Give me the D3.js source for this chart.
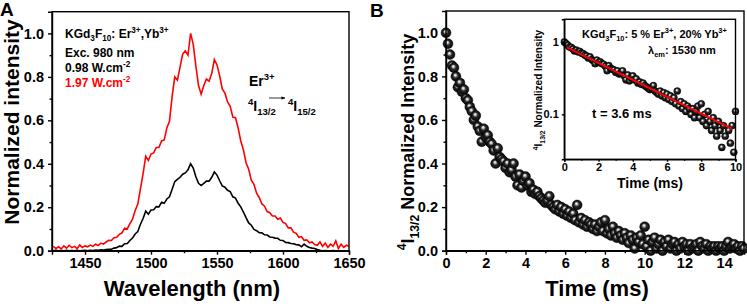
<!DOCTYPE html>
<html>
<head>
<meta charset="utf-8">
<script src="https://cdn.jsdelivr.net/npm/d3@7"></script>
<style>
  body { margin: 0; background: #fff; }
  svg { display: block; font-family: "Liberation Sans", Arial, sans-serif; font-weight: bold; }
  .axis path, .axis line { stroke: #000; stroke-width: 1.4; }
  .axis text { font-family: "Liberation Sans", Arial, sans-serif; font-weight: bold; fill: #000; }
</style>
</head>
<body>
<div id="chart"></div>
<script>
// Panel A: NIR emission spectra, 2 nm sampling from 1426 nm
const wavelength = d3.range(1426, 1651, 2);
const spec197 = [
  0.02, 0.01, 0.018, 0.008, 0.022, 0.012, 0.025, 0.014, 0.02, 0.01,
  0.026, 0.015, 0.022, 0.018, 0.026, 0.02, 0.03, 0.024, 0.035, 0.03,
  0.04, 0.048, 0.047, 0.06, 0.062, 0.075, 0.082, 0.104, 0.1, 0.125,
  0.145, 0.185, 0.215, 0.285, 0.355, 0.435, 0.415, 0.445, 0.45, 0.475,
  0.475, 0.505, 0.51, 0.565, 0.595, 0.71, 0.8, 0.785, 0.845, 0.905,
  0.92, 0.9, 1.0, 0.95, 0.85, 0.76, 0.72, 0.76, 0.79, 0.78,
  0.815, 0.88, 0.855, 0.805, 0.745, 0.725, 0.685, 0.665, 0.615, 0.612,
  0.565, 0.505, 0.465, 0.405, 0.375, 0.325, 0.305, 0.265, 0.245, 0.215,
  0.205, 0.18, 0.175, 0.16, 0.16, 0.145, 0.15, 0.13, 0.125, 0.105,
  0.105, 0.085, 0.08, 0.062, 0.065, 0.048, 0.05, 0.036, 0.04, 0.028,
  0.025, 0.04, 0.02, 0.035, 0.015, 0.03, 0.02, 0.045, 0.01, 0.03,
  0.015, 0.025, 0.02
];
const spec098 = [
  0, 0.002, 0, 0.001, 0, 0.002, 0, 0.001, 0, 0.002,
  0, 0.001, 0.002, 0, 0.002, 0.001, 0.003, 0.002, 0.004, 0.003,
  0.005, 0.007, 0.007, 0.012, 0.014, 0.021, 0.02, 0.032, 0.033, 0.047,
  0.058, 0.077, 0.088, 0.122, 0.148, 0.182, 0.168, 0.187, 0.188, 0.203,
  0.202, 0.223, 0.218, 0.238, 0.248, 0.283, 0.318, 0.328, 0.338, 0.352,
  0.358, 0.372, 0.4, 0.38, 0.34, 0.31, 0.3, 0.31, 0.32, 0.32,
  0.338, 0.362, 0.348, 0.322, 0.298, 0.292, 0.278, 0.272, 0.248, 0.242,
  0.218, 0.202, 0.178, 0.152, 0.128, 0.117, 0.098, 0.092, 0.083, 0.082,
  0.073, 0.072, 0.063, 0.062, 0.058, 0.057, 0.048, 0.047, 0.038, 0.037,
  0.033, 0.032, 0.028, 0.027, 0.018, 0.03, 0.02, 0.015, 0.012, 0.01,
  0.005, 0.002, 0, 0.001, 0, 0, 0.001, 0, 0, 0,
  0, 0, 0
];

// Panel B: 4I13/2 decay, 0.1 ms sampling from 0 ms
const decay = [
  1.0, 0.95, 0.9, 0.85, 0.84, 0.8, 0.75, 0.77, 0.73, 0.74,
  0.70, 0.69, 0.66, 0.64, 0.6, 0.62, 0.57, 0.55, 0.5, 0.56,
  0.52, 0.53, 0.5, 0.49, 0.46, 0.4, 0.47, 0.43, 0.42, 0.41,
  0.38, 0.4, 0.36, 0.37, 0.4, 0.34, 0.3, 0.35, 0.29, 0.32,
  0.34, 0.3, 0.31, 0.27, 0.28, 0.26, 0.27, 0.25, 0.24, 0.23,
  0.22, 0.23, 0.25, 0.21, 0.2, 0.19, 0.21, 0.18, 0.2, 0.17,
  0.19, 0.16, 0.18, 0.15, 0.17, 0.14, 0.21, 0.13, 0.15, 0.12,
  0.14, 0.11, 0.13, 0.12, 0.1, 0.12, 0.09, 0.11, 0.13, 0.09,
  0.14, 0.08, 0.1, 0.07, 0.11, 0.08, 0.06, 0.09, 0.07, 0.05,
  0.08, 0.06, 0.035, 0.07, 0.05, 0.01, 0.06, 0.04, 0.07, 0.03,
  0.11, 0.02, 0.05, 0.0, 0.04, 0.06, 0.01, 0.03, 0.05, 0.0,
  0.04, 0.02, 0.05, 0.01, 0.03, 0.04, 0.0, 0.03, 0.01, 0.04,
  0.02, 0.03, 0.0, 0.03, 0.01, 0.02, 0.03, 0.0, 0.04, 0.02,
  0.01, 0.03, 0.0, 0.02, 0.01, 0.02, 0.0, 0.02, 0.01, 0.02,
  0.0, 0.02, 0.04, 0.01, 0.02, 0.03, 0.01, 0.02, 0.0, 0.02,
  0.01
];
const decayTime = decay.map((_, i) => i / 10);
// mono-exponential fit shown in the inset (tau = 3.6 ms)
const fitTime = [0.15, 9.8];
const fitValue = [0.84, 0.063];

const W = 747, H = 308;
const svg = d3.select("#chart").append("svg").attr("width", W).attr("height", H);
const defs = svg.append("defs");
const grad = defs.append("radialGradient").attr("id", "ball").attr("cx", "50%").attr("cy", "50%").attr("r", "55%").attr("fx", "42%").attr("fy", "35%");
grad.append("stop").attr("offset", "0%").attr("stop-color", "#ffffff");
grad.append("stop").attr("offset", "18%").attr("stop-color", "#c8c8c8");
grad.append("stop").attr("offset", "45%").attr("stop-color", "#2a2a2a");
grad.append("stop").attr("offset", "100%").attr("stop-color", "#000");

// rich text helper: parts = [[str, "n"|"sup"|"sub"], ...]
function rich(sel, parts, fs) {
  let off = 0;
  parts.forEach(([s, k]) => {
    const target = k === "sup" ? -0.42 * fs : k === "sub" ? 0.28 * fs : 0;
    sel.append("tspan").attr("dy", target - off).attr("font-size", k === "n" ? fs : fs * 0.68).text(s);
    off = target;
  });
  return sel;
}

function frame(g, x0, x1, y0, y1) {
  g.append("rect").attr("x", x0).attr("y", y0).attr("width", x1 - x0).attr("height", y1 - y0)
    .attr("fill", "none").attr("stroke", "#000").attr("stroke-width", 1.4);
}

function minorTicks(g, axis, scale, vals, size) {
  g.append("g").attr("class", "axis").call(axis(scale).tickValues(vals).tickSize(size).tickFormat(""))
    .call((s) => s.select(".domain").remove());
}

// ---------- Panel A ----------
const A = { l: 52, r: 349, t: 11.7, b: 250.7 };
const xA = d3.scaleLinear().domain([1425, 1650]).range([A.l, A.r]);
const yA = d3.scaleLinear().domain([0, 1.1]).range([A.b, A.t]);
const gA = svg.append("g");
defs.append("clipPath").attr("id", "clipA").append("rect").attr("x", A.l).attr("y", A.t).attr("width", A.r - A.l).attr("height", A.b - A.t);

const lineA = (arr) => d3.line().x((d, i) => xA(wavelength[i])).y((d) => yA(d))(arr);
gA.append("path").attr("clip-path", "url(#clipA)").attr("d", lineA(spec197)).attr("fill", "none").attr("stroke", "#ff0000").attr("stroke-width", 1.6);
gA.append("path").attr("clip-path", "url(#clipA)").attr("d", lineA(spec098)).attr("fill", "none").attr("stroke", "#000").attr("stroke-width", 1.6);

gA.append("g").attr("class", "axis").attr("transform", `translate(0,${A.b})`)
  .call(d3.axisBottom(xA).tickValues([1450, 1500, 1550, 1600, 1650]).tickSize(4).tickPadding(3).tickFormat(d3.format("d")))
  .call((s) => s.selectAll("text").attr("font-size", 14.5));
const gAxm = gA.append("g").attr("transform", `translate(0,${A.b})`);
minorTicks(gAxm, d3.axisBottom, xA, [1475, 1525, 1575, 1625], 2.5);
gA.append("g").attr("class", "axis").attr("transform", `translate(${A.l},0)`)
  .call(d3.axisLeft(yA).tickValues([0, 0.2, 0.4, 0.6, 0.8, 1.0]).tickSize(4).tickPadding(4).tickFormat(d3.format(".1f")))
  .call((s) => s.selectAll("text").attr("font-size", 14.5));
const gAym = gA.append("g").attr("transform", `translate(${A.l},0)`);
minorTicks(gAym, d3.axisLeft, yA, [0.1, 0.3, 0.5, 0.7, 0.9], 2.5);
frame(gA, A.l, A.r, A.t, A.b);

gA.append("text").attr("x", 192).attr("y", 296).attr("text-anchor", "middle").attr("font-size", 22).text("Wavelength (nm)");
gA.append("text").attr("transform", "translate(19,122) rotate(-90)").attr("text-anchor", "middle").attr("font-size", 21).text("Normalized intensity");
gA.append("text").attr("x", 0).attr("y", 16).attr("font-size", 19).text("A");

rich(gA.append("text").attr("x", 65).attr("y", 38), [["KGd", "n"], ["3", "sub"], ["F", "n"], ["10", "sub"], [": Er", "n"], ["3+", "sup"], [",Yb", "n"], ["3+", "sup"]], 12);
gA.append("text").attr("x", 65).attr("y", 57).attr("font-size", 12).text("Exc. 980 nm");
rich(gA.append("text").attr("x", 65).attr("y", 72), [["0.98 W.cm", "n"], ["-2", "sup"]], 12);
rich(gA.append("text").attr("x", 65).attr("y", 87).attr("fill", "#ff0000"), [["1.97 W.cm", "n"], ["-2", "sup"]], 12);

rich(gA.append("text").attr("x", 249).attr("y", 86), [["Er", "n"], ["3+", "sup"]], 14);
rich(gA.append("text").attr("x", 248).attr("y", 111), [["4", "sup"], ["I", "n"], ["13/2", "sub"]], 14);
rich(gA.append("text").attr("x", 288).attr("y", 111), [["4", "sup"], ["I", "n"], ["15/2", "sub"]], 14);
defs.append("marker").attr("id", "arr").attr("viewBox", "0 0 10 10").attr("refX", 9).attr("refY", 5)
  .attr("markerWidth", 5).attr("markerHeight", 5).attr("orient", "auto")
  .append("path").attr("d", "M0,1 L10,5 L0,9 Z").attr("fill", "#000");
gA.append("line").attr("x1", 269).attr("x2", 285).attr("y1", 98).attr("y2", 98).attr("stroke", "#000").attr("stroke-width", 0.8).attr("marker-end", "url(#arr)");

// ---------- Panel B ----------
const B = { l: 446, r: 744, t: 11, b: 250.7 };
const xB = d3.scaleLinear().domain([0, 15]).range([B.l, B.r]);
const yB = d3.scaleLinear().domain([0, 1.1]).range([B.b, B.t]);
const gB = svg.append("g");

gB.append("g").attr("class", "axis").attr("transform", `translate(0,${B.b})`)
  .call(d3.axisBottom(xB).tickValues(d3.range(0, 15, 2)).tickSize(4).tickPadding(3).tickFormat(d3.format("d")))
  .call((s) => s.selectAll("text").attr("font-size", 14.5));
const gBxm = gB.append("g").attr("transform", `translate(0,${B.b})`);
minorTicks(gBxm, d3.axisBottom, xB, d3.range(1, 16, 2), 2.5);
gB.append("g").attr("class", "axis").attr("transform", `translate(${B.l},0)`)
  .call(d3.axisLeft(yB).tickValues([0, 0.2, 0.4, 0.6, 0.8, 1.0]).tickSize(4).tickPadding(4).tickFormat(d3.format(".1f")))
  .call((s) => s.selectAll("text").attr("font-size", 14.5));
const gBym = gB.append("g").attr("transform", `translate(${B.l},0)`);
minorTicks(gBym, d3.axisLeft, yB, [0.1, 0.3, 0.5, 0.7, 0.9], 2.5);

gB.append("g").selectAll("circle").data(decay).join("circle")
  .attr("cx", (d, i) => xB(decayTime[i])).attr("cy", (d) => yB(d)).attr("r", 5)
  .attr("fill", "url(#ball)").attr("stroke", "#000").attr("stroke-width", 0.4);
frame(gB, B.l, B.r, B.t, B.b);

gB.append("text").attr("x", 597).attr("y", 296).attr("text-anchor", "middle").attr("font-size", 22).text("Time (ms)");
rich(gB.append("text").attr("transform", "translate(414,142) rotate(-90)").attr("text-anchor", "middle"),
  [["4", "sup"], ["I", "n"], ["13/2", "sub"], [" Normalized Intensity", "n"]], 18);
gB.append("text").attr("x", 370).attr("y", 17).attr("font-size", 19).text("B");

// ---------- Inset ----------
const I = { l: 564.3, r: 735.5, t: 19.3, b: 159.3 };
const xI = d3.scaleLinear().domain([0, 10]).range([I.l, I.r]);
const yI = d3.scaleLog().domain([0.024, 2.05]).range([I.b, I.t]);
const gI = svg.append("g");
gI.append("rect").attr("x", I.l).attr("y", I.t).attr("width", I.r - I.l).attr("height", I.b - I.t).attr("fill", "#fff");
defs.append("clipPath").attr("id", "clipI").append("rect").attr("x", I.l - 4).attr("y", I.t).attr("width", I.r - I.l + 8).attr("height", I.b - I.t);

const insetPts = decay.map((v, i) => [decayTime[i], v]).filter((d) => d[0] <= 10 && d[1] >= 0.03);
gI.append("g").attr("clip-path", "url(#clipI)").selectAll("circle").data(insetPts).join("circle")
  .attr("cx", (d) => xI(d[0])).attr("cy", (d) => yI(d[1])).attr("r", 3.6)
  .attr("fill", "url(#ball)").attr("stroke", "#000").attr("stroke-width", 0.3);
gI.append("path").attr("d", d3.line().x((d, i) => xI(fitTime[i])).y((d) => yI(d))(fitValue))
  .attr("stroke", "#ff0000").attr("stroke-width", 2).attr("fill", "none");

gI.append("g").attr("class", "axis").attr("transform", `translate(0,${I.b})`)
  .call(d3.axisBottom(xI).tickValues(d3.range(0, 11, 2)).tickSize(2.5).tickPadding(1.5).tickFormat(d3.format("d")))
  .call((s) => s.selectAll("text").attr("font-size", 11));
const gIxm = gI.append("g").attr("transform", `translate(0,${I.b})`);
minorTicks(gIxm, d3.axisBottom, xI, d3.range(1, 10, 2), 1.5);
gI.append("g").attr("class", "axis").attr("transform", `translate(${I.l},0)`)
  .call(d3.axisLeft(yI).tickValues([0.1, 1]).tickSize(2.5).tickPadding(3).tickFormat((d) => (d === 1 ? "1" : "0.1")))
  .call((s) => s.selectAll("text").attr("font-size", 11));
frame(gI, I.l, I.r, I.t, I.b);

gI.append("text").attr("x", 650).attr("y", 188).attr("text-anchor", "middle").attr("font-size", 14).text("Time (ms)");
rich(gI.append("text").attr("transform", "translate(542,90) rotate(-90)").attr("text-anchor", "middle"),
  [["4", "sup"], ["I", "n"], ["13/2", "sub"], [" Normalized Intensity", "n"]], 10);
rich(gI.append("text").attr("x", 582).attr("y", 38), [["KGd", "n"], ["3", "sub"], ["F", "n"], ["10", "sub"], [": 5 % Er", "n"], ["3+", "sup"], [", 20% Yb", "n"], ["3+", "sup"]], 11);
rich(gI.append("text").attr("x", 648).attr("y", 54), [["\u03bb", "n"], ["em", "sub"], [": 1530 nm", "n"]], 11);
gI.append("text").attr("x", 592).attr("y", 118).attr("font-size", 13).text("t = 3.6 ms");
</script>
</body>
</html>
